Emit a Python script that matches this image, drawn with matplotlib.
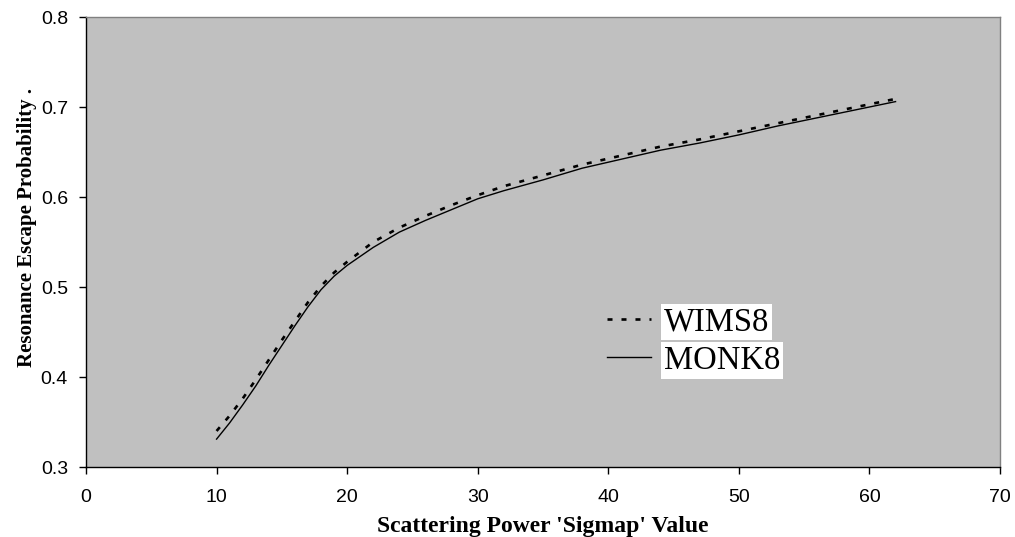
import matplotlib
matplotlib.use("Agg")
import matplotlib.pyplot as plt

# Scattering power 'Sigmap' values and resonance escape probabilities
sigmap = [10, 11, 12, 13, 14, 15, 16, 17, 18, 19, 20, 22, 24, 26, 28, 30,
          32, 35, 38, 41, 44, 47, 50, 53, 56, 59, 62]
wims8 = [0.340, 0.357, 0.376, 0.397, 0.419, 0.441, 0.462, 0.483, 0.501,
         0.516, 0.528, 0.550, 0.566, 0.579, 0.591, 0.602, 0.612, 0.624,
         0.636, 0.646, 0.656, 0.664, 0.673, 0.682, 0.691, 0.700, 0.709]
monk8 = [0.331, 0.349, 0.369, 0.390, 0.413, 0.435, 0.457, 0.478, 0.497,
         0.512, 0.524, 0.544, 0.561, 0.574, 0.586, 0.598, 0.607, 0.619,
         0.632, 0.642, 0.652, 0.660, 0.669, 0.679, 0.688, 0.697, 0.706]

x_ticks = [0, 10, 20, 30, 40, 50, 60, 70]
y_ticks = [0.3, 0.4, 0.5, 0.6, 0.7, 0.8]

serif = ["Liberation Serif", "DejaVu Serif"]
sans = ["Liberation Sans", "DejaVu Sans"]

fig = plt.figure(figsize=(10.15, 5.37), dpi=100)
ax = fig.add_axes([86 / 1015, 1 - 467 / 537, 914 / 1015, 450 / 537])
ax.set_facecolor("#c0c0c0")

ax.plot(sigmap, wims8, color="black", lw=1.9, linestyle=(0, (1.9, 3.4)),
        label="WIMS8")
ax.plot(sigmap, monk8, color="black", lw=1.0, label="MONK8")

ax.set_xlim(0, 70)
ax.set_ylim(0.3, 0.8)
ax.set_xticks(x_ticks)
ax.set_yticks(y_ticks)
ax.set_xticklabels([str(v) for v in x_ticks], family=sans, fontsize=14)
ax.set_yticklabels([f"{v:.1f}" for v in y_ticks], family=sans, fontsize=14)
ax.tick_params(direction="out", length=5, width=1, color="black")
ax.tick_params(axis="x", pad=11)
ax.tick_params(axis="y", pad=8)

for side in ("left", "bottom"):
    ax.spines[side].set_color("black")
    ax.spines[side].set_linewidth(1.0)
for side in ("top", "right"):
    ax.spines[side].set_color("#808080")
    ax.spines[side].set_linewidth(1.0)

ax.set_xlabel("Scattering Power 'Sigmap' Value", family=serif,
              fontweight="bold", fontsize=17)
ax.xaxis.set_label_coords(0.5, -0.108)
ax.set_ylabel("Resonance Escape Probability .", family=serif,
              fontweight="bold", fontsize=15)
ax.yaxis.set_label_coords(-0.054, 0.532)

leg = ax.legend(loc="center left", bbox_to_anchor=(0.5705, 0.279),
                frameon=False, prop={"family": serif, "size": 23.5},
                handlelength=1.35, handletextpad=0.37, labelspacing=0.24,
                borderpad=0, borderaxespad=0)
for t in leg.get_texts():
    t.set_bbox(dict(facecolor="white", edgecolor="none", pad=2))

fig.savefig("out.png", dpi=100)
